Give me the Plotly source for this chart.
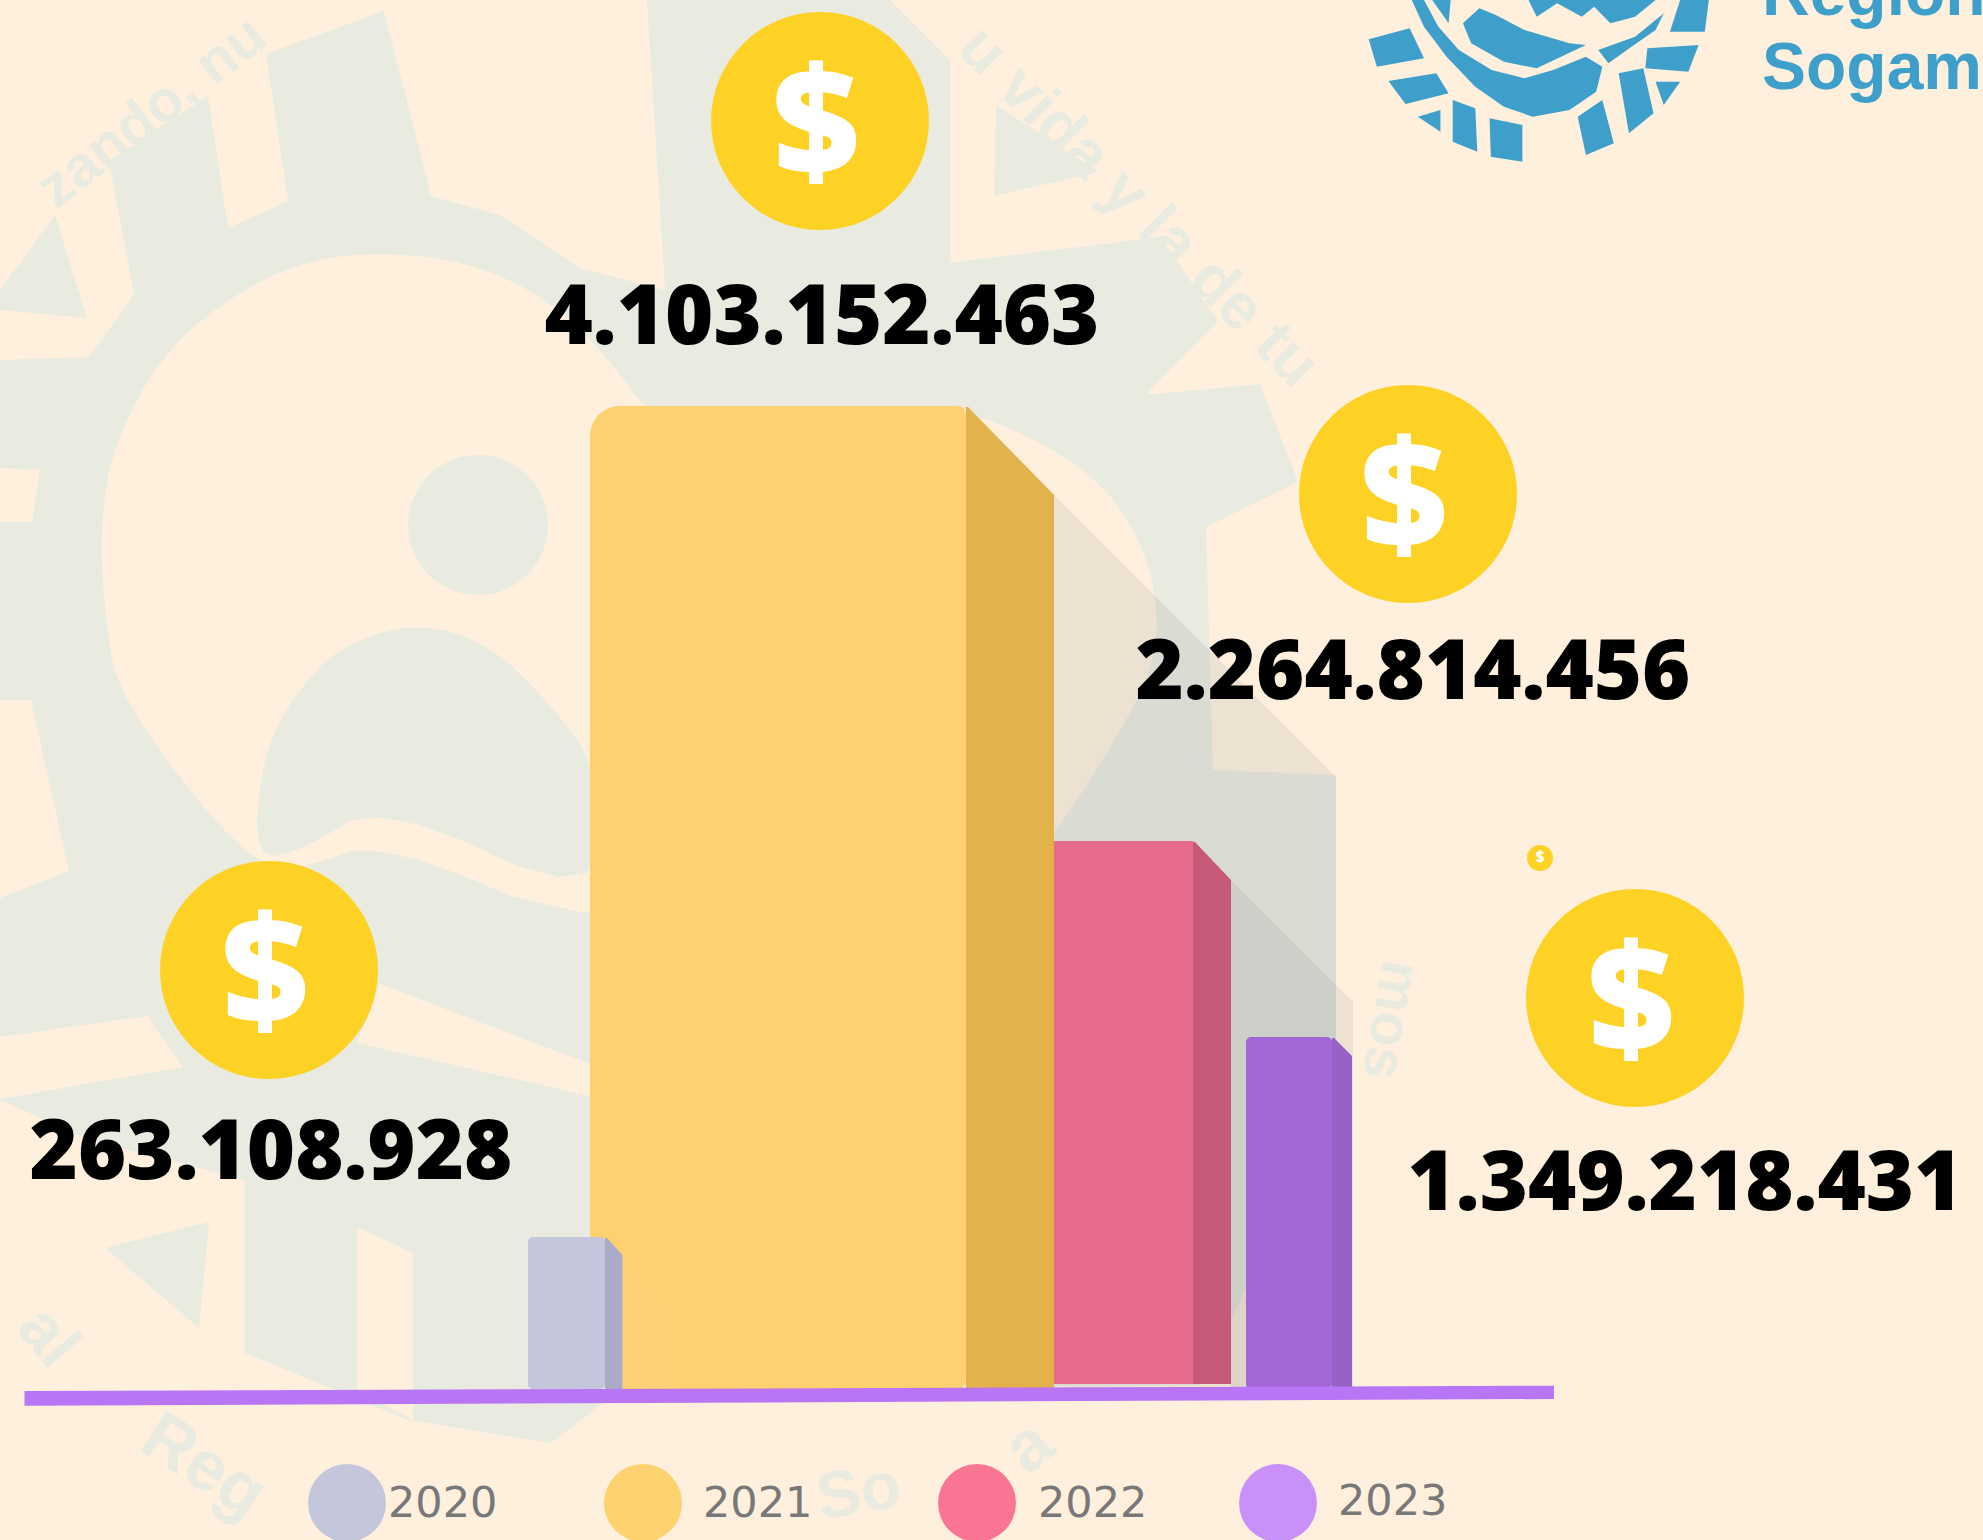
import plotly.graph_objects as go

# ---- data ----
years = ["2020", "2021", "2022", "2023"]
label_values = [263108928, 4103152463, 2264814456, 1349218431]
# drawn bar heights (millions on the drawn scale): the picture's bars are not proportional to their labels
bar_heights = [634, 4103, 2287, 1469]
bar_bases = [0, 0, 21, 0]

# ---- style / layout ----
W, H = 1983, 1540
BASE_PX, K = 1389, 983 / 4103       # pixel row of value 0 and pixels per unit
BG, WM = "#FEF0DD", "#E9EBE0"
front = ["#C4C6DC", "#FED170", "#E76C8B", "#A367D5"]
side = ["#A9ABC9", "#E2B24D", "#C85A79", "#9662C5"]
legend_col = ["#C4C6DC", "#FFD270", "#FA7594", "#C890F8"]
bar_radius = [5, 30, 0, 5]
bar_left = [528, 590, 1054, 1246]
bar_right = [605, 966, 1193, 1332]
depth_x = [17.5, 88, 38, 20]
depth_y = [18, 89, 39, 19]
coin_x = [269, 820, 1408, 1635]
coin_y = [970, 121, 494, 998]
label_x = [271, 822, 1413, 1685]
label_y = [1158, 323, 678, 1189]
legend_cx = [347, 643, 977, 1278]
legend_tx = [388, 703, 1038, 1338]
LOGO = "#3E9FCB"


def v(px):
    return (BASE_PX - px) / K


def fmt(n):
    return f"{n:,}".replace(",", ".")


def smooth(points, n=2):
    pts = list(points)
    for _ in range(n):
        out = []
        for i, (x0, y0) in enumerate(pts):
            x1, y1 = pts[(i + 1) % len(pts)]
            out += [(0.75 * x0 + 0.25 * x1, 0.75 * y0 + 0.25 * y1), (0.25 * x0 + 0.75 * x1, 0.25 * y0 + 0.75 * y1)]
        pts = out
    return pts


def poly(points, fill):
    d = "M" + "L".join(f"{x / W:.5f},{1 - y / H:.5f}" for x, y in points) + "Z"
    return dict(type="path", xref="paper", yref="paper", path=d, fillcolor=fill,
                line=dict(width=0), layer="below")


def disc(cx, cy, r, fill):
    return dict(type="circle", xref="paper", yref="paper", x0=(cx - r) / W, x1=(cx + r) / W,
                y0=1 - (cy + r) / H, y1=1 - (cy - r) / H, fillcolor=fill,
                line=dict(width=0), layer="below")


shapes = []
# pale watermark logo
shapes.append(poly([(0, 360), (89, 357), (134, 295), (109, 161), (208, 96), (228, 228), (288, 201), (266, 54),
                    (384, 11), (431, 196), (500, 215), (580, 268), (665, 290), (647, 0), (890, 0), (950, 60),
                    (950, 263), (1160, 237), (1218, 321), (1145, 395), (1260, 384), (1298, 482), (1206, 527),
                    (1213, 770), (1336, 775), (1336, 1100), (1200, 1385), (620, 1390), (551, 1443), (408, 1420),
                    (245, 1353), (245, 1180), (90, 1140), (0, 1100)], WM))
shapes.append(poly(smooth([(100, 522), (115, 440), (165, 350), (240, 290), (310, 260), (380, 252), (470, 262),
                           (550, 300), (610, 360), (645, 410), (700, 430), (940, 430), (969, 408), (1091, 469),
                           (1145, 545), (1160, 625), (1147, 680), (1121, 730), (1070, 813), (1000, 900),
                           (590, 930), (380, 840), (300, 870), (245, 860), (120, 700), (105, 620)], 2), BG))
shapes.append(poly(smooth([(254, 860), (262, 760), (290, 700), (340, 645), (420, 622), (490, 645), (547, 700),
                           (600, 770), (600, 905), (380, 802), (303, 850)], 2), WM))
shapes.append(poly([(380, 984), (590, 1064), (590, 1096), (357, 1043)], BG))
shapes.append(poly([(0, 1037), (147, 1016), (183, 1067), (0, 1099)], BG))
shapes.append(poly([(31, 700), (69, 871), (0, 898), (0, 700)], BG))
shapes.append(poly([(0, 468), (40, 470), (32, 522), (0, 522)], BG))
shapes.append(poly([(357, 1227), (413, 1253), (413, 1420), (357, 1390)], BG))
shapes.append(poly([(55, 215), (87, 318), (0, 310), (0, 290)], WM))
shapes.append(poly([(996, 105), (1099, 172), (994, 196)], WM))
shapes.append(poly([(105, 1248), (209, 1222), (199, 1328)], WM))
shapes.append(disc(478, 525, 70, WM))

# logo, top right
for pts in [
    [(70, 118), (170, 85), (205, 175), (90, 200)],
    [(118, 243), (235, 220), (265, 280), (160, 312)],
    [(190, 350), (245, 330), (245, 395)],
    [(275, 300), (330, 325), (335, 455), (275, 425)],
    [(365, 355), (445, 375), (445, 485), (368, 470)],
    [(580, 350), (640, 300), (668, 430), (600, 465)],
    [(680, 220), (740, 205), (765, 340), (705, 400)],
    [(770, 245), (830, 245), (790, 315)],
    [(750, 145), (875, 135), (850, 215), (745, 205)],
    [(830, 0), (900, 0), (890, 95), (805, 95)],
    [(175, 0), (205, 80), (260, 170), (330, 260), (400, 320), (470, 350), (560, 330), (625, 275), (640, 200),
     (600, 170), (520, 210), (450, 235), (370, 210), (290, 150), (240, 80), (205, 0)],
    [(300, 70), (340, 25), (380, 45), (450, 90), (560, 130), (600, 135), (480, 205), (400, 185), (320, 130)],
    [(800, 15), (770, 90), (700, 150), (655, 190), (630, 150), (720, 110), (790, 40)],
    [(460, 0), (480, 50), (530, 10), (590, 50), (620, 20), (660, 70), (720, 50), (770, 0)],
    [(225, 0), (265, 70), (270, 0)],
]:
    shapes.append(poly([(1340 + x / 2.44, y / 3) for x, y in pts], LOGO))

# long cast shadows, placed from the bars' values
SHADOW = "rgba(120,120,130,0.13)"
for i, edge in ((1, 1336), (2, 1353)):
    sr = bar_right[i] + depth_x[i]
    top_px = BASE_PX - bar_heights[i] * K + depth_y[i]
    drop = edge - sr
    d = f"M{sr},{v(top_px):.1f}L{edge},{v(top_px + drop):.1f}L{edge},0L{sr},0Z"
    shapes.append(dict(type="path", xref="x", yref="y", path=d, fillcolor=SHADOW,
                       line=dict(width=0), layer="below"))

fig = go.Figure()

# front faces (2020 sits in front of 2021)
for i in (1, 2, 3, 0):
    fig.add_trace(go.Bar(x=[(bar_left[i] + bar_right[i]) / 2], y=[bar_heights[i] - bar_bases[i]],
                         base=[bar_bases[i]], width=[bar_right[i] - bar_left[i]],
                         marker=dict(color=front[i], line=dict(width=0), cornerradius=bar_radius[i]),
                         showlegend=False, hoverinfo="skip", xaxis="x", yaxis="y"))
    if i == 1:  # the right half of the tall bar has a tighter corner
        mid = (bar_left[i] + bar_right[i]) / 2
        fig.add_trace(go.Bar(x=[(mid + bar_right[i]) / 2], y=[bar_heights[i] - bar_bases[i]],
                             base=[bar_bases[i]], width=[bar_right[i] - mid],
                             marker=dict(color=front[i], line=dict(width=0), cornerradius=8),
                             showlegend=False, hoverinfo="skip", xaxis="x", yaxis="y"))

# faint shadow of 2020 on the 2021 face
s0 = bar_right[0] + depth_x[0]
t0 = bar_heights[0] - depth_y[0] / K
fig.add_trace(go.Scatter(x=[s0, s0 + 58, s0 + 58, s0], y=[t0, t0 - 58 / K, bar_bases[0], bar_bases[0]],
                         fill="toself", mode="none", fillcolor="rgba(240,212,135,0.2)",
                         showlegend=False, hoverinfo="skip", xaxis="x", yaxis="y"))

# side faces
for i in range(4):
    fr, sr = bar_right[i], bar_right[i] + depth_x[i]
    top = bar_heights[i]
    fig.add_trace(go.Scatter(x=[fr, fr + 2, sr, sr, fr],
                             y=[top - 1 / K, top - 1 / K, top - depth_y[i] / K, bar_bases[i], bar_bases[i]],
                             fill="toself", mode="none", fillcolor=side[i],
                             showlegend=False, hoverinfo="skip", xaxis="x", yaxis="y"))

# ground line (pixel axis, above the bars)
fig.add_trace(go.Scatter(x=[24.5, 1554, 1554, 24.5], y=[1391, 1385.7, 1399, 1405.7], fill="toself", mode="none",
                         fillcolor="#B875F5", showlegend=False, hoverinfo="skip", xaxis="x", yaxis="y2"))

# coins
COIN = "#FED125"
fig.add_trace(go.Scatter(x=coin_x, y=coin_y, mode="markers",
                         marker=dict(size=218, color=COIN, line=dict(width=0)),
                         showlegend=False, hoverinfo="skip", xaxis="x", yaxis="y2"))
fig.add_trace(go.Scatter(x=[c - 4 for c in coin_x], y=[c + 16 for c in coin_y], mode="text", text=["$"] * 4,
                         textposition="middle center",
                         textfont=dict(family="Open Sans", size=151, color="white", weight=800),
                         showlegend=False, hoverinfo="skip", xaxis="x", yaxis="y2"))
fig.add_trace(go.Scatter(x=[1540], y=[858], mode="markers+text", text=["$"], textposition="middle center",
                         textfont=dict(family="Open Sans", size=15, color="white", weight=800),
                         marker=dict(size=26, color=COIN, line=dict(width=0)),
                         showlegend=False, hoverinfo="skip", xaxis="x", yaxis="y2"))

# value labels
fig.add_trace(go.Scatter(x=label_x, y=label_y, mode="text", text=[fmt(n) for n in label_values],
                         textposition="middle center",
                         textfont=dict(family="Open Sans", size=82.5, color="black", weight=800),
                         showlegend=False, hoverinfo="skip", xaxis="x", yaxis="y2"))

# legend
fig.add_trace(go.Scatter(x=legend_cx, y=[1503] * 4, mode="markers",
                         marker=dict(size=78, color=legend_col, line=dict(width=0)),
                         showlegend=False, hoverinfo="skip", xaxis="x", yaxis="y2"))
fig.add_trace(go.Scatter(x=legend_tx, y=[1506, 1506, 1506, 1504], mode="text", text=years,
                         textposition="middle right",
                         textfont=dict(family="DejaVu Sans", size=43, color="#787878"),
                         showlegend=False, hoverinfo="skip", xaxis="x", yaxis="y2"))

annotations = []


def note(text, x, y, size, angle=0, color=WM, xanchor="center", yanchor="middle", family="Liberation Sans"):
    annotations.append(dict(text=f"<b>{text}</b>", x=x, y=y, xref="x", yref="y2", showarrow=False,
                            xanchor=xanchor, yanchor=yanchor, textangle=angle,
                            font=dict(family=family, size=size, color=color)))


note("zando, nu", 150, 110, 58, -38)
note("u vida y la de tu", 1140, 205, 64, 45)
note("al", 50, 1335, 66, 50)
note("Reg", 205, 1464, 70, 33)
note("So", 858, 1490, 66, -10)
note("a", 1028, 1445, 70, -40)
note("mos", 1394, 1020, 58, 100)
note("Regional", 1760, 31, 66, color=LOGO, xanchor="left", yanchor="bottom")
note("Sogamoso", 1760, 105, 66, color=LOGO, xanchor="left", yanchor="bottom")

fig.update_layout(
    width=W, height=H, autosize=False,
    margin=dict(l=0, r=0, t=0, b=0, pad=0),
    paper_bgcolor=BG, plot_bgcolor="rgba(0,0,0,0)",
    barmode="overlay", showlegend=False,
    shapes=shapes, annotations=annotations,
    xaxis=dict(range=[0, W], visible=False, fixedrange=True, domain=[0, 1]),
    yaxis=dict(range=[v(H), v(0)], visible=False, fixedrange=True, domain=[0, 1]),
    yaxis2=dict(range=[H, 0], visible=False, fixedrange=True, overlaying="y", anchor="x"),
)

fig.write_html("out.html", config={"displayModeBar": False},
               post_script="document.body.style.margin='0';document.body.style.overflow='hidden';")
